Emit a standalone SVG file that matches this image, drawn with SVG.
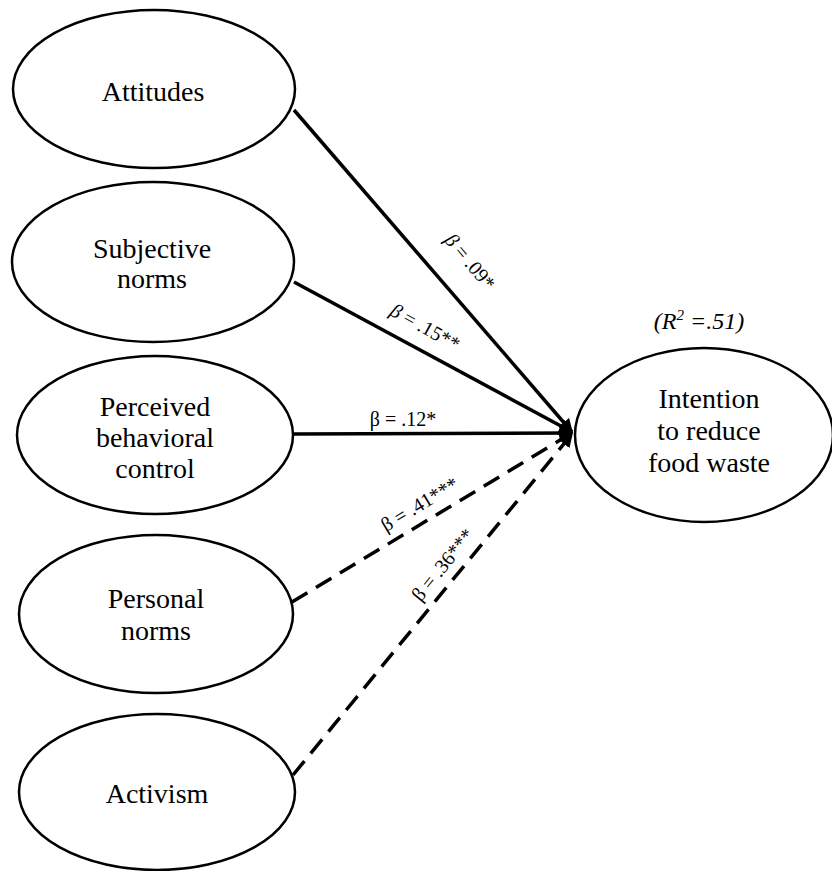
<svg xmlns="http://www.w3.org/2000/svg" width="832" height="871" viewBox="0 0 832 871">
<style>
.node ellipse{fill:#fff;stroke:#000;stroke-width:2.5}
.node text{font-family:"Liberation Serif",serif;font-size:28px;fill:#000;text-anchor:middle}
.conn line{stroke:#000;stroke-width:3.5;marker-end:url(#ah)}
.conn .dash{stroke-dasharray:18 10}
.lbl{font-family:"Liberation Serif",serif;font-size:20px;fill:#000;text-anchor:middle}
.r2{font-family:"Liberation Serif",serif;font-size:24px;font-style:italic;fill:#000;text-anchor:middle}
</style>
<defs>
<marker id="ah" viewBox="0 0 10 10" refX="9" refY="5" markerWidth="4" markerHeight="4" orient="auto" markerUnits="strokeWidth">
<path d="M0,0 L10,5 L0,10 z" fill="#000"/>
</marker>
</defs>
<rect width="832" height="871" fill="#fff"/>
<g id="connectors" class="conn">
<line x1="294" y1="110" x2="572" y2="432"/>
<line x1="294" y1="282" x2="572" y2="432"/>
<line x1="293" y1="434" x2="572" y2="433"/>
<line class="dash" x1="292" y1="602" x2="572" y2="433"/>
<line class="dash" x1="293" y1="775" x2="572" y2="434"/>
</g>
<g id="node-attitudes" class="node">
<ellipse cx="154" cy="89" rx="141" ry="79"/>
<text x="153" y="101">Attitudes</text>
</g>
<g id="node-subjective" class="node">
<ellipse cx="153" cy="262" rx="141" ry="80"/>
<text x="152" y="258">Subjective</text>
<text x="152" y="288">norms</text>
</g>
<g id="node-pbc" class="node">
<ellipse cx="155" cy="435" rx="138" ry="79"/>
<text x="155" y="416">Perceived</text>
<text x="155" y="447">behavioral</text>
<text x="155" y="478">control</text>
</g>
<g id="node-personal" class="node">
<ellipse cx="156" cy="614" rx="137" ry="79"/>
<text x="156" y="608">Personal</text>
<text x="156" y="640">norms</text>
</g>
<g id="node-activism" class="node">
<ellipse cx="157" cy="792" rx="138" ry="78"/>
<text x="157" y="803">Activism</text>
</g>
<g id="node-intention" class="node">
<ellipse cx="704" cy="435" rx="129" ry="87"/>
<text x="709" y="408">Intention</text>
<text x="709" y="440">to reduce</text>
<text x="709" y="472">food waste</text>
</g>
<g id="labels">
<text class="lbl" transform="translate(465,266) rotate(50)"><tspan font-style="italic">β</tspan> = .09*</text>
<text class="lbl" transform="translate(422,333) rotate(29)"><tspan font-style="italic">β</tspan> = .15**</text>
<text class="lbl" x="403" y="426">β = .12*</text>
<text class="lbl" transform="translate(423,510) rotate(-31)">β = .41***</text>
<text class="lbl" transform="translate(448,569) rotate(-51)">β = .36***</text>
<text class="r2" x="699" y="329">(R<tspan dy="-9" font-size="15">2</tspan><tspan dy="9"> =.51)</tspan></text>
</g>
</svg>
